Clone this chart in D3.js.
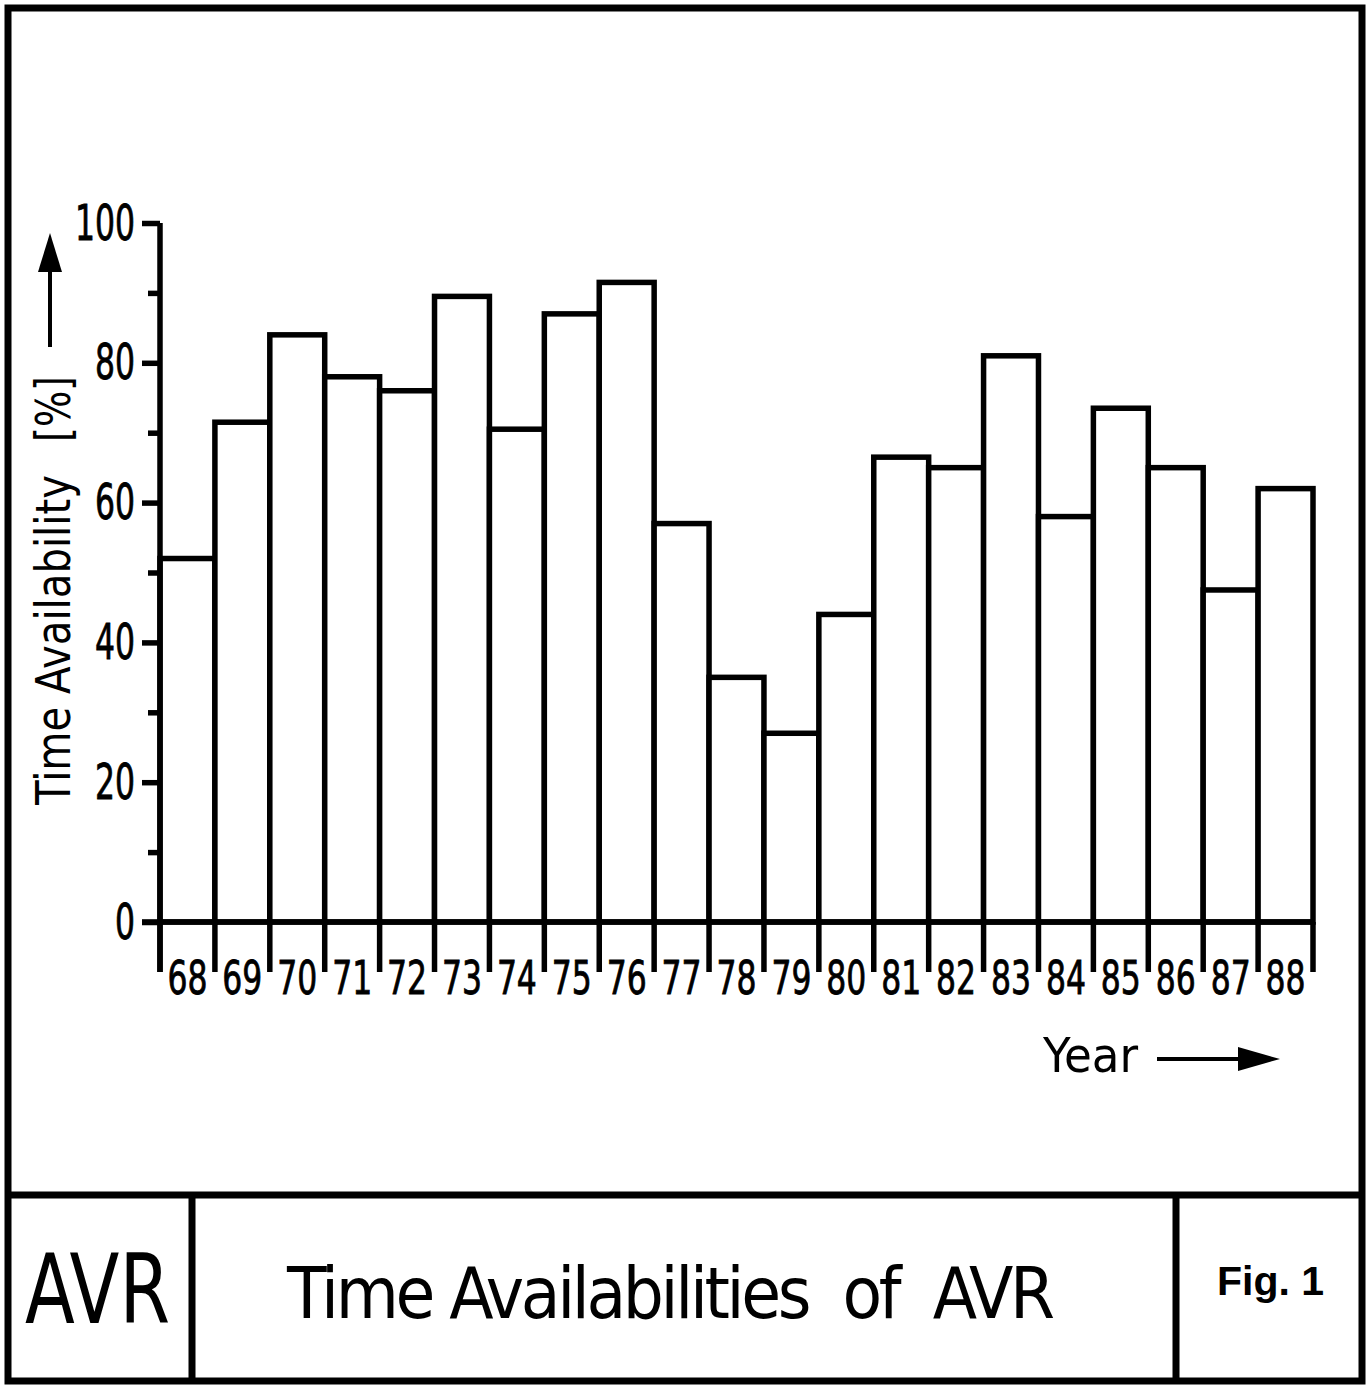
<!DOCTYPE html>
<html>
<head>
<meta charset="utf-8">
<script src="https://cdn.jsdelivr.net/npm/d3@7"></script>
<style>
  body { margin: 0; background: #fff; }
  text { font-family: "DejaVu Sans Condensed", "Liberation Sans Narrow", sans-serif; fill: #000; }
</style>
</head>
<body>
<script>
var years = ["68","69","70","71","72","73","74","75","76","77","78","79","80","81","82","83","84","85","86","87","88"];
var availability = [52, 71.5, 84, 78, 76, 89.5, 70.5, 87, 91.5, 57, 35, 27, 44, 66.5, 65, 81, 58, 73.5, 65, 47.5, 62];
var majorTicks = [0, 20, 40, 60, 80, 100];
var minorTicks = [10, 30, 50, 70, 90];

function timechart(){
  var width = 1368, height = 1385,
      lw = 5.5;

  var svg = d3.select("body").append("svg")
    .attr("width", width)
    .attr("height", height);

  var x = d3.scaleBand()
    .domain(years)
    .range([160, 1313])
    .padding(0);

  var y = d3.scaleLinear()
    .domain([0, 100])
    .range([922, 223]);

  // frame + title block
  svg.append("rect")
    .attr("x", 8).attr("y", 8)
    .attr("width", 1354).attr("height", 1373)
    .style("fill", "none").style("stroke", "#000").style("stroke-width", 7);
  svg.append("line").attr("x1", 8).attr("x2", 1362).attr("y1", 1195).attr("y2", 1195)
    .style("stroke", "#000").style("stroke-width", 7);
  [192, 1176].forEach(function(px){
    svg.append("line").attr("x1", px).attr("x2", px).attr("y1", 1195).attr("y2", 1381)
      .style("stroke", "#000").style("stroke-width", 7);
  });

  // bars
  svg.selectAll(".bar")
      .data(availability)
    .enter().append("rect")
      .attr("class", "bar")
      .attr("x", function(d,i){ return x(years[i]); })
      .attr("y", function(d){ return y(d); })
      .attr("width", x.bandwidth())
      .attr("height", function(d){ return y(0) - y(d); })
      .style("fill", "#fff")
      .style("stroke", "#000")
      .style("stroke-width", lw);

  // separators below the axis
  var edges = years.map(function(d){ return x(d); }).concat([x.range()[1]]);
  svg.selectAll(".sep")
      .data(edges)
    .enter().append("line")
      .attr("class", "sep")
      .attr("x1", function(d){ return d; }).attr("x2", function(d){ return d; })
      .attr("y1", y(0)).attr("y2", 972)
      .style("stroke", "#000").style("stroke-width", lw);

  // x axis line
  svg.append("line")
    .attr("x1", 142).attr("x2", 1313)
    .attr("y1", y(0)).attr("y2", y(0))
    .style("stroke", "#000").style("stroke-width", lw);

  // year labels
  svg.selectAll(".year")
      .data(years)
    .enter().append("text")
      .attr("class", "year")
      .attr("x", function(d){ return x(d) + x.bandwidth()/2 - 20; })
      .attr("y", 994)
      .attr("textLength", 40).attr("lengthAdjust", "spacingAndGlyphs")
      .style("font-size", "46px")
      .style("stroke", "#000").style("stroke-width", 0.8)
      .text(function(d){ return d; });

  // y axis
  var yAxis = svg.append("g")
    .attr("transform", "translate(160,0)")
    .call(d3.axisLeft(y).tickValues(majorTicks).tickSize(18).tickPadding(7).tickSizeOuter(0));
  yAxis.select(".domain").remove();
  yAxis.selectAll("line").style("stroke", "#000").style("stroke-width", lw);
  yAxis.selectAll("text")
    .style("font-size", "50px").style("font-family", null)
    .style("stroke", "#000").style("stroke-width", 0.8)
    .attr("textLength", function(d){ return String(d).length * 20; })
    .attr("lengthAdjust", "spacingAndGlyphs");

  var yMinor = svg.append("g")
    .attr("transform", "translate(160,0)")
    .call(d3.axisLeft(y).tickValues(minorTicks).tickSize(12).tickFormat(""));
  yMinor.select(".domain").remove();
  yMinor.selectAll("line").style("stroke", "#000").style("stroke-width", lw);

  svg.append("line")
    .attr("x1", 160).attr("x2", 160)
    .attr("y1", y(100)).attr("y2", 972)
    .style("stroke", "#000").style("stroke-width", lw);

  // y label + arrow
  svg.append("text")
    .attr("transform", "translate(70,805) rotate(-90)")
    .attr("textLength", 330).attr("lengthAdjust", "spacingAndGlyphs")
    .style("font-size", "48px")
    .text("Time Availability");
  svg.append("text")
    .attr("transform", "translate(70,442) rotate(-90)")
    .attr("textLength", 66).attr("lengthAdjust", "spacingAndGlyphs")
    .style("font-size", "48px")
    .text("[%]");

  svg.append("line")
    .attr("x1", 50).attr("x2", 50).attr("y1", 347).attr("y2", 268)
    .style("stroke", "#000").style("stroke-width", 4);
  svg.append("path")
    .attr("d", "M50,233 L38,272 L62,272 Z")
    .style("fill", "#000");

  // x label + arrow
  svg.append("text")
    .attr("x", 1043).attr("y", 1072)
    .attr("textLength", 95).attr("lengthAdjust", "spacingAndGlyphs")
    .style("font-size", "48px")
    .text("Year");
  svg.append("line")
    .attr("x1", 1157).attr("x2", 1245).attr("y1", 1059).attr("y2", 1059)
    .style("stroke", "#000").style("stroke-width", 4);
  svg.append("path")
    .attr("d", "M1280,1059 L1238,1047 L1238,1071 Z")
    .style("fill", "#000");

  // title block texts
  svg.append("text")
    .attr("x", 25).attr("y", 1323)
    .attr("textLength", 145).attr("lengthAdjust", "spacingAndGlyphs")
    .style("font-size", "97px")
    .text("AVR");

  svg.append("text")
    .attr("x", 287).attr("y", 1318)
    .attr("textLength", 768).attr("lengthAdjust", "spacing")
    .style("font-size", "72px")
    .style("white-space", "pre")
    .text("Time Availabilities  of  AVR");

  svg.append("text")
    .attr("x", 1217).attr("y", 1295)
    .style("font-family", "'Liberation Sans', Arial, sans-serif")
    .style("font-weight", "bold")
    .style("font-size", "41px")
    .text("Fig. 1");
}

timechart();
</script>
</body>
</html>
